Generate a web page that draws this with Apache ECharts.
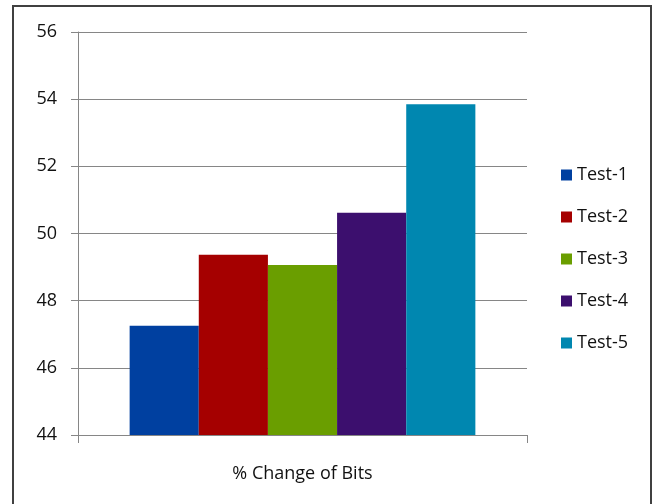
<!DOCTYPE html>
<html>
<head>
<meta charset="utf-8">
<script src="https://cdn.jsdelivr.net/npm/echarts@6/dist/echarts.min.js"></script>
<style>
html,body{margin:0;padding:0;background:#fff;}
#main{width:654px;height:504px;}
</style>
</head>
<body>
<div id="main"></div>
<script>
var categories = ['% Change of Bits'];
var seriesNames = ['Test-1', 'Test-2', 'Test-3', 'Test-4', 'Test-5'];
var test1 = [47.25];
var test2 = [49.37];
var test3 = [49.06];
var test4 = [50.62];
var test5 = [53.85];
var seriesValues = [test1, test2, test3, test4, test5];
var colors = ['#0040A0', '#A50000', '#6A9E00', '#3C0F6E', '#0087B0'];
var yMin = 44, yMax = 56, yStep = 2;

var FONT = '"Open Sans", sans-serif';
var chart = echarts.init(document.getElementById('main'));
var series = seriesNames.map(function (n, i) {
  return {
    name: n,
    type: 'bar',
    data: seriesValues[i],
    itemStyle: { color: colors[i] },
    barGap: '0%',
    barCategoryGap: '23%'
  };
});
chart.setOption({
  animation: false,
  color: colors,
  textStyle: { fontFamily: FONT },
  graphic: [{
    type: 'rect',
    shape: { x: 13, y: 6, width: 638, height: 510 },
    style: { fill: 'none', stroke: '#404040', lineWidth: 2 },
    silent: true
  }],
  grid: { left: 78, right: 127, top: 32, bottom: 69 },
  legend: {
    orient: 'vertical',
    left: 556,
    top: 160,
    itemWidth: 11,
    itemHeight: 11,
    itemGap: 22,
    icon: 'rect',
    textStyle: { fontFamily: FONT, fontSize: 18, color: '#111111', lineHeight: 20 },
    data: seriesNames
  },
  xAxis: {
    type: 'category',
    data: categories,
    axisLine: { lineStyle: { color: '#868686', width: 1 } },
    axisTick: { show: true, length: 8, lineStyle: { color: '#868686' } },
    axisLabel: { fontFamily: FONT, fontSize: 18, color: '#111111', margin: 30 }
  },
  yAxis: {
    type: 'value',
    min: yMin,
    max: yMax,
    interval: yStep,
    axisLine: { show: true, lineStyle: { color: '#868686', width: 1 } },
    axisTick: { show: true, length: 7, lineStyle: { color: '#868686' } },
    axisLabel: { fontFamily: FONT, fontSize: 18, color: '#111111', margin: 21 },
    splitLine: { show: true, lineStyle: { color: '#868686', width: 1 } }
  },
  series: series
});
</script>
</body>
</html>
